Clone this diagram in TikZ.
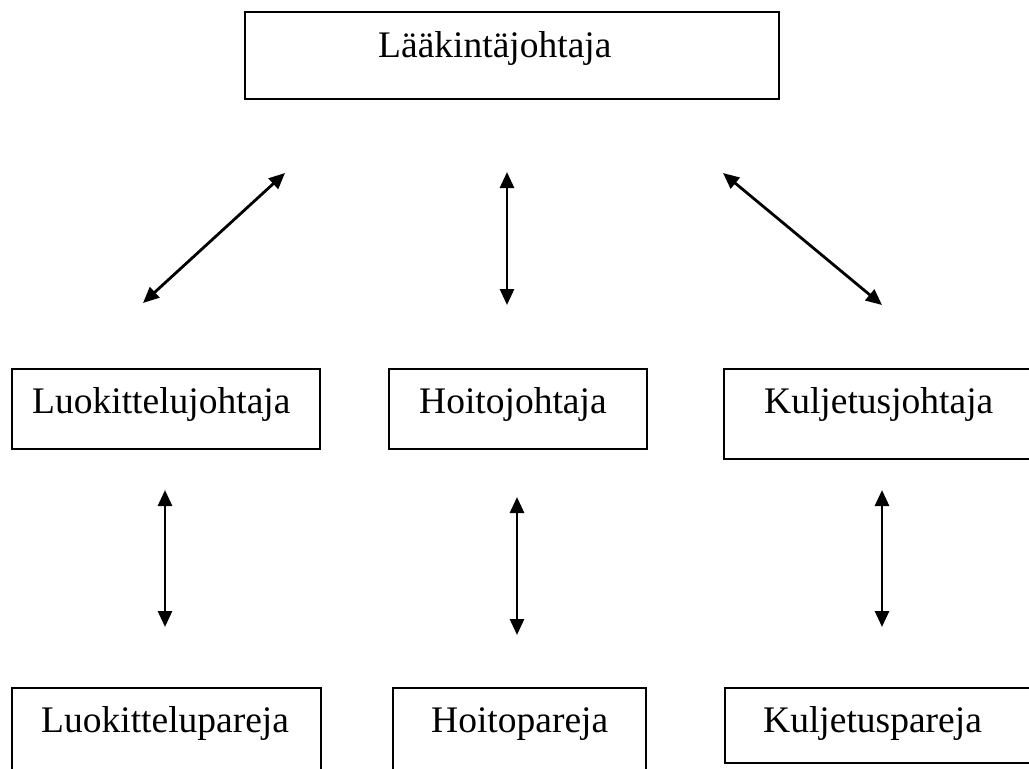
\documentclass[tikz,border=0pt]{standalone}
\usepackage{fontspec}
\setmainfont{Liberation Serif}
\usetikzlibrary{arrows.meta}
\tikzset{
  box/.style={draw=black, line width=2pt, rectangle, inner sep=0pt, anchor=north west},
  lbl/.style={anchor=base west, inner sep=0pt, font=\fontsize{37.5}{45}\selectfont},
  link/.style={line width=2.8pt, {Triangle[length=16pt,width=14pt]}-{Triangle[length=16pt,width=14pt]}}
}
\begin{document}
\begin{tikzpicture}[x=1pt,y=-1pt]
\useasboundingbox (0,0) rectangle (1029,769);
% boxes
\node[box, minimum width=534pt, minimum height=87pt] (top) at (244,11) {};
\node[lbl] (topt) at (378,57) {Lääkintäjohtaja};
\node[box, minimum width=308pt, minimum height=80pt] (luo) at (11,368) {};
\node[lbl] (luot) at (32,413) {Luokittelujohtaja};
\node[box, minimum width=258pt, minimum height=80pt] (hoi) at (388,368) {};
\node[lbl] (hoit) at (419,413) {Hoitojohtaja};
\node[box, minimum width=320pt, minimum height=90pt] (kul) at (723,368) {};
\node[lbl] (kult) at (764,413) {Kuljetusjohtaja};
\node[box, minimum width=309pt, minimum height=100pt] (luop) at (11,687) {};
\node[lbl] (luopt) at (41,732) {Luokittelupareja};
\node[box, minimum width=253pt, minimum height=100pt] (hoip) at (392,687) {};
\node[lbl] (hoipt) at (431,732) {Hoitopareja};
\node[box, minimum width=320pt, minimum height=75pt] (kulp) at (724,687) {};
\node[lbl] (kulpt) at (763,732) {Kuljetuspareja};
% arrow end points
\coordinate (a1) at (285,173); \coordinate (b1) at (143,303);
\coordinate (a2) at (507,172); \coordinate (b2) at (507,305);
\coordinate (a3) at (723,173); \coordinate (b3) at (882,305);
\coordinate (a4) at (165,490); \coordinate (b4) at (165,627);
\coordinate (a5) at (517,497); \coordinate (b5) at (517,635);
\coordinate (a6) at (882,490); \coordinate (b6) at (882,627);
\draw[link] (a1) -- (b1);
\draw[link] (a2) -- (b2);
\draw[link] (a3) -- (b3);
\draw[link] (a4) -- (b4);
\draw[link] (a5) -- (b5);
\draw[link] (a6) -- (b6);
\end{tikzpicture}
\end{document}
